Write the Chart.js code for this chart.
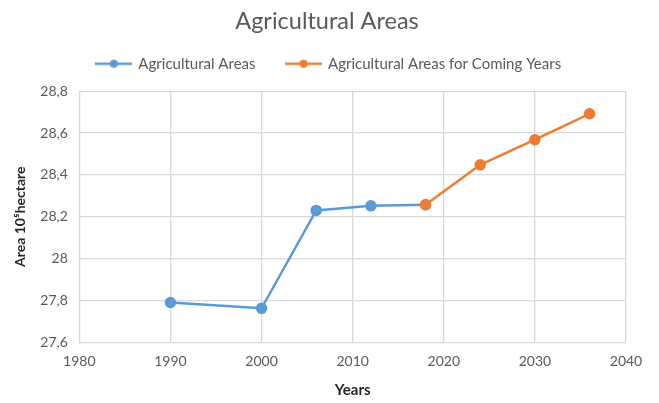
<!DOCTYPE html>
<html>
<head>
<meta charset="utf-8">
<script src="https://cdn.jsdelivr.net/npm/chart.js@4"></script>
<style>
  html, body { margin: 0; padding: 0; background: #fff; }
  #wrap { width: 659px; height: 403px; }
</style>
</head>
<body>
<div id="wrap"><canvas id="myChart" width="659" height="403"></canvas></div>
<script>
// measured series
const pastYears = [1990, 2000, 2006, 2012, 2018];
const pastArea = [27.79, 27.762, 28.23, 28.252, 28.257];
const futureYears = [2018, 2024, 2030, 2036];
const futureArea = [28.257, 28.448, 28.568, 28.692];

const blue = '#5b9bd5';
const orange = '#ed7d31';
const fontFamily = 'Lato, "Open Sans", sans-serif';

const toPoints = (xs, ys) => xs.map((x, i) => ({ x: x, y: ys[i] }));

// little line-with-dot marker for the legend
const legendMarker = (color) => {
    const c = document.createElement('canvas');
    c.width = 37;
    c.height = 10;
    const ctx = c.getContext('2d');
    ctx.strokeStyle = color;
    ctx.lineWidth = 2.5;
    ctx.beginPath();
    ctx.moveTo(0, 5);
    ctx.lineTo(37, 5);
    ctx.stroke();
    ctx.fillStyle = color;
    ctx.beginPath();
    ctx.arc(18.5, 5, 4, 0, Math.PI * 2);
    ctx.fill();
    return c;
};

// more room under the legend, and center legend + title on the whole canvas
const legendTweak = {
    id: 'legendTweak',
    beforeInit(chart) {
        const fit = chart.legend.fit;
        chart.legend.fit = function () {
            fit.bind(chart.legend)();
            this.height += 10;
        };
    },
    afterLayout(chart) {
        chart.legend.left += 12;
        chart.legend.right += 12;
        chart.titleBlock.left += 10;
        chart.titleBlock.right += 10;
    }
};

const data = {
    datasets: [{
        label: 'Agricultural Areas',
        data: toPoints(pastYears, pastArea),
        borderColor: blue,
        backgroundColor: blue,
        borderWidth: 2.5,
        pointRadius: 4.5,
        pointHoverRadius: 4.5,
        order: 2,
        marker: legendMarker(blue)
    }, {
        label: 'Agricultural Areas for Coming Years',
        data: toPoints(futureYears, futureArea),
        borderColor: orange,
        backgroundColor: orange,
        borderWidth: 2.5,
        pointRadius: 4.5,
        pointHoverRadius: 4.5,
        order: 1,
        marker: legendMarker(orange)
    }]
};

const config = {
    type: 'line',
    data: data,
    plugins: [legendTweak],
    options: {
        responsive: false,
        animation: false,
        layout: { padding: { left: 8, right: 33, top: 0, bottom: 0 } },
        plugins: {
            title: {
                display: true,
                text: 'Agricultural Areas',
                color: '#595959',
                font: { family: fontFamily, size: 23.5, weight: 'normal' },
                padding: { top: 7, bottom: -10 }
            },
            legend: {
                labels: {
                    color: '#595959',
                    font: { family: fontFamily, size: 15 },
                    usePointStyle: true,
                    pointStyleWidth: 34,
                    boxHeight: 10,
                    padding: 31,
                    generateLabels: (chart) => chart.data.datasets.map((ds, i) => ({
                        text: ds.label,
                        pointStyle: ds.marker,
                        fillStyle: ds.borderColor,
                        strokeStyle: ds.borderColor,
                        lineWidth: 0,
                        datasetIndex: i,
                        fontColor: '#595959'
                    }))
                }
            },
            tooltip: { enabled: false }
        },
        scales: {
            x: {
                type: 'linear',
                min: 1980,
                max: 2040,
                ticks: {
                    stepSize: 10,
                    color: '#595959',
                    font: { family: fontFamily, size: 14 },
                    callback: (v) => String(v),
                    padding: 11
                },
                grid: { color: '#d9d9d9', lineWidth: 1.3, drawTicks: false },
                border: { color: '#d9d9d9' },
                title: {
                    display: true,
                    text: 'Years',
                    color: '#262626',
                    font: { family: fontFamily, size: 15, weight: 'bold' },
                    padding: { top: 0, bottom: 4 }
                }
            },
            y: {
                min: 27.6,
                max: 28.8,
                ticks: {
                    stepSize: 0.2,
                    color: '#595959',
                    font: { family: fontFamily, size: 14 },
                    padding: 11.5,
                    callback: (v) => v.toFixed(1).replace('.0', '').replace('.', ',')
                },
                grid: { color: '#d9d9d9', lineWidth: 1.3, drawTicks: false },
                border: { color: '#d9d9d9' },
                title: {
                    display: true,
                    text: 'Area 10⁵hectare',
                    color: '#262626',
                    font: { family: fontFamily, size: 14, weight: 'bold' },
                    padding: { top: 4, bottom: 0 }
                }
            }
        }
    }
};

const myChart = new Chart(
    document.getElementById('myChart'),
    config
);
</script>
</body>
</html>
